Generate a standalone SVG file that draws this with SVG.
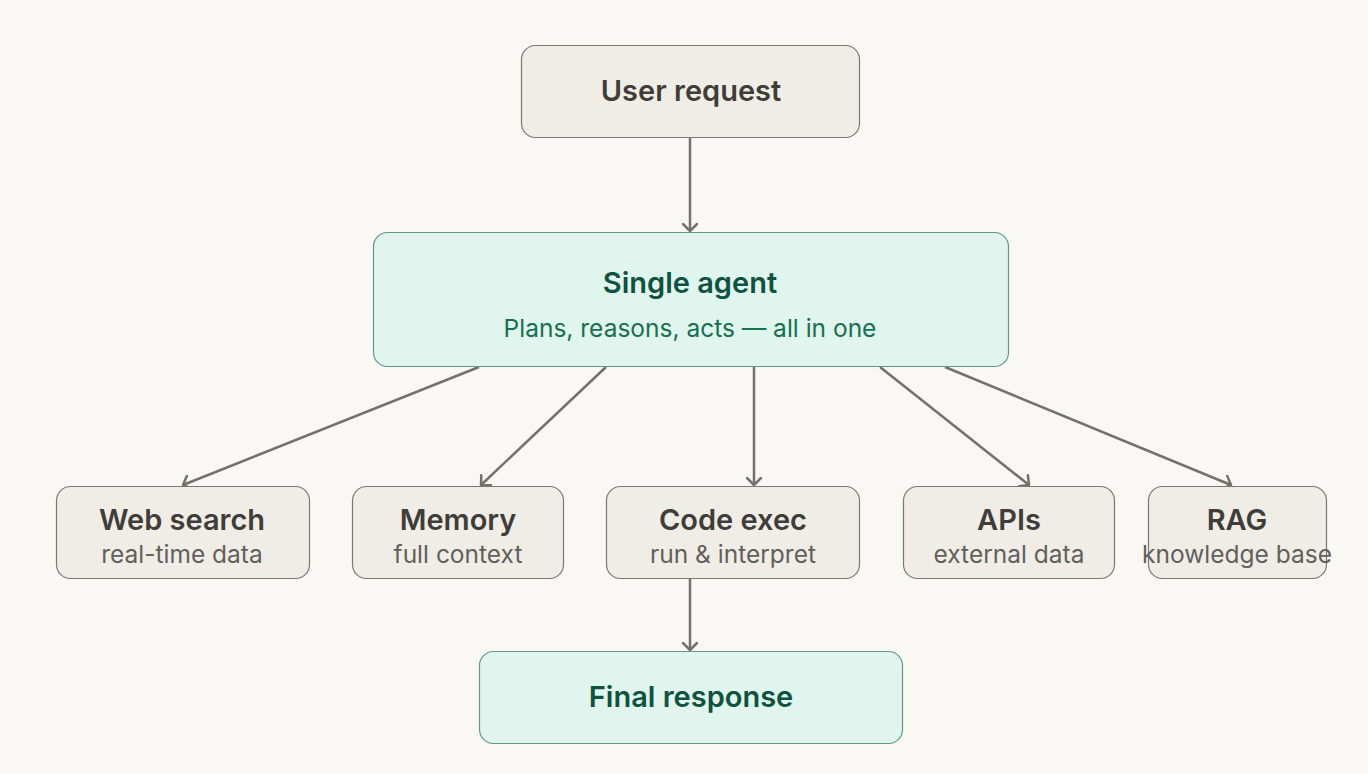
<svg xmlns="http://www.w3.org/2000/svg" width="1368" height="774" viewBox="0 0 1368 774">
<defs>
<marker id="arr" markerWidth="16" markerHeight="16" refX="8" refY="8" orient="auto" markerUnits="userSpaceOnUse">
<path d="M1,1 L8,8 L1,15" fill="none" stroke="#74716c" stroke-width="2.5" stroke-linecap="round" stroke-linejoin="round"/>
</marker>
<style>
.n{fill:#f0ede6;stroke:#7a7873;stroke-width:1.2}
.g{fill:#e0f5ee;stroke:#5f9a83;stroke-width:1.2}
.t{font-family:Inter,"Liberation Sans",sans-serif;font-weight:600;font-size:29px;fill:#3f3d39;text-anchor:middle}
.s{font-family:Inter,"Liberation Sans",sans-serif;font-weight:400;font-size:24.5px;fill:#62605b;text-anchor:middle}
.tg{font-family:Inter,"Liberation Sans",sans-serif;font-weight:600;font-size:29px;fill:#0e5240;text-anchor:middle}
.sg{font-family:Inter,"Liberation Sans",sans-serif;font-weight:400;font-size:24.5px;fill:#17704f;text-anchor:middle}
.c{fill:none;stroke:#74716c;stroke-width:2.5;marker-end:url(#arr)}
</style>
</defs>
<rect width="1368" height="774" fill="#f9f8f5"/>
<g id="connectors">
<line class="c" x1="690" y1="138" x2="690" y2="231"/>
<line class="c" x1="479" y1="367" x2="183" y2="485"/>
<line class="c" x1="606" y1="367" x2="481" y2="485"/>
<line class="c" x1="754" y1="367" x2="754" y2="485"/>
<line class="c" x1="880" y1="367" x2="1029" y2="485"/>
<line class="c" x1="945" y1="367" x2="1231" y2="485"/>
<line class="c" x1="690" y1="578" x2="690" y2="650"/>
</g>
<g id="user-request">
<rect class="n" x="521.5" y="45.5" width="338" height="92" rx="14"/>
<text class="t" x="691" y="101">User request</text>
</g>
<g id="single-agent">
<rect class="g" x="373.5" y="232.5" width="635" height="134" rx="14"/>
<text class="tg" x="690" y="293">Single agent</text>
<text class="sg" x="690" y="337">Plans, reasons, acts — all in one</text>
</g>
<g id="web-search">
<rect class="n" x="56.5" y="486.5" width="253" height="92" rx="14"/>
<text class="t" x="182" y="530">Web search</text>
<text class="s" x="182" y="563">real-time data</text>
</g>
<g id="memory">
<rect class="n" x="352.5" y="486.5" width="211" height="92" rx="14"/>
<text class="t" x="458" y="530">Memory</text>
<text class="s" x="458" y="563">full context</text>
</g>
<g id="code-exec">
<rect class="n" x="606.5" y="486.5" width="253" height="92" rx="14"/>
<text class="t" x="733" y="530">Code exec</text>
<text class="s" x="733" y="563">run &amp; interpret</text>
</g>
<g id="apis">
<rect class="n" x="903.5" y="486.5" width="211" height="92" rx="14"/>
<text class="t" x="1009" y="530">APIs</text>
<text class="s" x="1009" y="563">external data</text>
</g>
<g id="rag">
<rect class="n" x="1148.5" y="486.5" width="178" height="92" rx="14"/>
<text class="t" x="1237" y="530">RAG</text>
<text class="s" x="1237" y="563">knowledge base</text>
</g>
<g id="final-response">
<rect class="g" x="479.5" y="651.5" width="423" height="92" rx="14"/>
<text class="tg" x="691" y="707">Final response</text>
</g>
</svg>
